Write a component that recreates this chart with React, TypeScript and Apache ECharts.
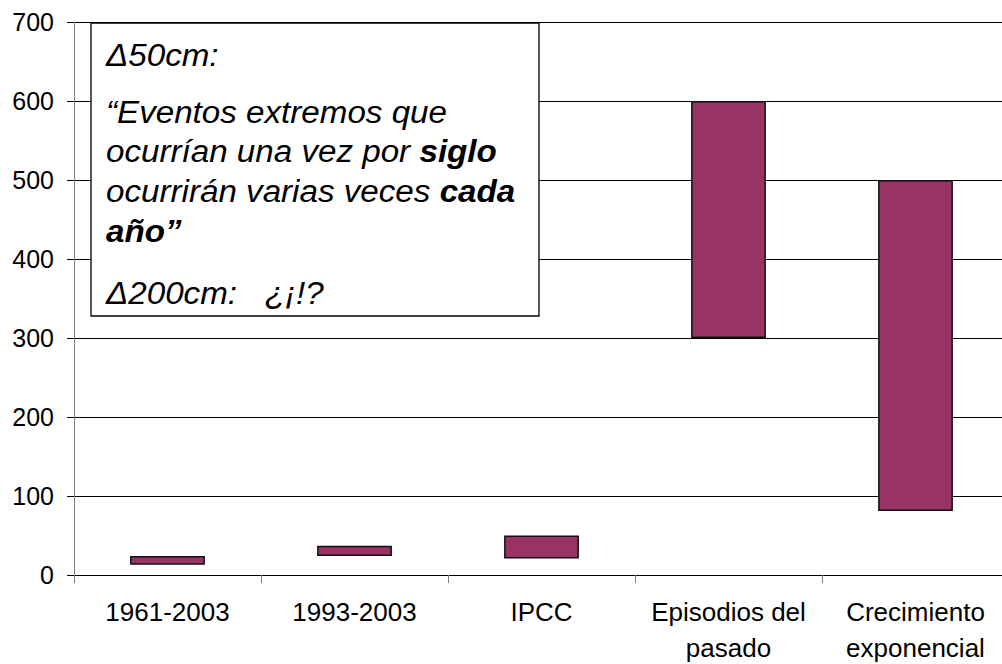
import React, { useEffect, useRef } from "react";
import * as echarts from "echarts";

const categories = ["1961-2003", "1993-2003", "IPCC", "Episodios del\npasado", "Crecimiento\nexponencial"];
const lowValues = [13, 24, 21, 300, 81];
const highValues = [24, 37, 50, 600, 500];
const yTicks = { min: 0, max: 700, interval: 100 };

const FONT = "'Liberation Sans', Arial, sans-serif";

export default function App() {
  const ref = useRef<HTMLDivElement>(null);
  useEffect(() => {
    const chart = echarts.init(ref.current!, null, { renderer: "svg" });
    const rangeValues = highValues.map((h, i) => h - lowValues[i]);
    const FS = 31;
    const boxText = (y: number, rich: string) => ({
      type: "text",
      x: 106,
      y: y,
      scaleX: 1.07,
      z: 101,
      style: {
        text: rich,
        fontFamily: FONT,
        fontSize: FS,
        fontStyle: "italic",
        fill: "#000",
        verticalAlign: "top",
        rich: {
          b: { fontFamily: FONT, fontSize: FS, fontStyle: "italic", fontWeight: "bold", fill: "#000" },
          n: { fontFamily: FONT, fontSize: FS, fontStyle: "italic", fill: "#000" },
        },
      },
    });
    chart.setOption({
      animation: false,
      grid: { left: 74, top: 22, width: 935, height: 553, containLabel: false, outerBoundsMode: "none" },
      xAxis: {
        type: "category",
        data: categories,
        boundaryGap: true,
        axisLine: { lineStyle: { color: "#000", width: 1 } },
        axisTick: { show: true, length: 8, lineStyle: { color: "#808080" } },
        axisLabel: { interval: 0, color: "#000", fontSize: 26, fontFamily: FONT, margin: 19, lineHeight: 36 },
        splitLine: { show: false },
      },
      yAxis: {
        type: "value",
        min: yTicks.min,
        max: yTicks.max,
        interval: yTicks.interval,
        axisLine: { show: true, lineStyle: { color: "#808080", width: 1 } },
        axisTick: { show: true, length: 7, lineStyle: { color: "#000" } },
        axisLabel: { color: "#000", fontSize: 25, fontFamily: FONT, margin: 20 },
        splitLine: { show: true, lineStyle: { color: "#000", width: 1 } },
      },
      series: [
        {
          type: "bar",
          stack: "r",
          data: lowValues,
          barWidth: "40%",
          itemStyle: { color: "transparent", borderWidth: 0 },
          silent: true,
        },
        {
          type: "bar",
          stack: "r",
          data: rangeValues,
          barWidth: "40%",
          itemStyle: { color: "#993366", borderColor: "#111", borderWidth: 1.5 },
        },
      ],
      graphic: [
        {
          type: "rect",
          x: 91,
          y: 23,
          z: 100,
          shape: { x: 0, y: 0, width: 448, height: 293 },
          style: { fill: "#fff", stroke: "#000", lineWidth: 1.3 },
        },
        boxText(40, "{n|Δ50cm:}"),
        boxText(97, "{n|“Eventos extremos que}"),
        boxText(136, "{n|ocurrían una vez por }{b|siglo}"),
        boxText(176, "{n|ocurrirán varias veces }{b|cada}"),
        boxText(216, "{b|año”}"),
        boxText(278, "{n|Δ200cm:   ¿¡!?}"),
      ],
    });
    return () => chart.dispose();
  }, []);
  return <div ref={ref} style={{ position: "fixed", left: 0, top: 0, width: 1002, height: 664, background: "#fff" }} />;
}
